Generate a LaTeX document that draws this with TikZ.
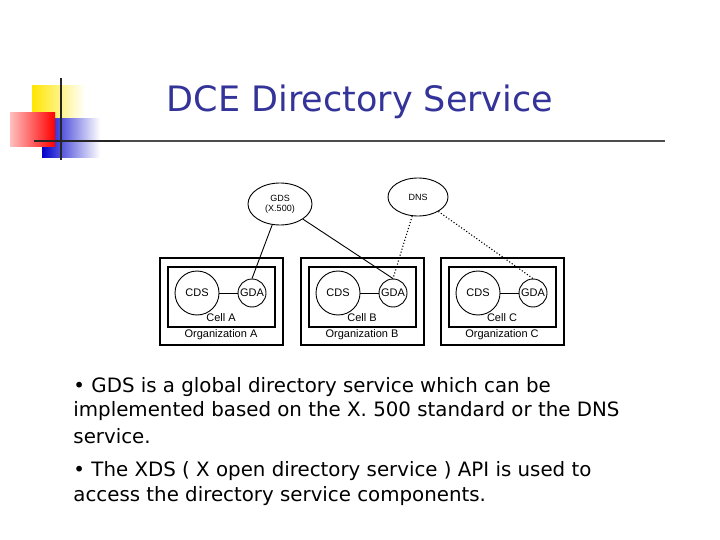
\documentclass[tikz,border=0pt]{standalone}
\usepackage{fontspec}
\usetikzlibrary{shapes.geometric}
\setmainfont{DejaVu Sans}
\newfontfamily\arialf{Liberation Sans}
\definecolor{ttl}{RGB}{51,51,153}
\begin{document}
\begin{tikzpicture}[x=1pt,y=-1pt,line width=0.9pt,
 el/.style={draw,ellipse,minimum width=64pt,minimum height=42pt,inner sep=0pt,font=\arialf\fontsize{9}{10}\selectfont,align=center},
 cds/.style={draw,circle,minimum size=44pt,inner sep=0pt,font=\arialf\fontsize{11}{12}\selectfont},
 gda/.style={draw,circle,minimum size=28pt,inner sep=0pt,font=\arialf\fontsize{11}{12}\selectfont},
 box/.style={draw,line width=1.2pt,inner sep=0pt},
 lbl/.style={font=\arialf\fontsize{11}{12}\selectfont},
 txt/.style={anchor=west,inner sep=0pt,font=\fontsize{19.8}{20}\selectfont}]
\useasboundingbox (0,0) rectangle (720,540);
% logo
\shade[left color=yellow!80!orange,right color=white] (32,86) rectangle (85,118);
\shade[left color=blue!80!black,right color=white] (42,119) rectangle (100,158);
\shade[left color=red!25,right color=red] (10,113) rectangle (55,147);
\draw[line width=2.5pt,black!85] (61,78) -- (61,160);
\draw[line width=2.5pt,black!85] (34,141) -- (120,141);
\draw[line width=1.2pt,black!70] (120,141) -- (665,141);
\node[text=ttl,font=\fontsize{35}{36}\selectfont] (title) at (360,102) {DCE Directory Service};
% diagram
\node[el] (gds) at (280,204) {GDS\\(X.500)};
\node[el,minimum width=60pt,minimum height=38pt] (dns) at (418,197) {DNS};
\foreach \n/\x in {A/0,B/141,C/281}{
 \draw[box] (160+\x,258) rectangle (283+\x,345);
 \draw[box] (168+\x,267) rectangle (275+\x,327);
 \node[cds] (cds\n) at (197+\x,293) {CDS};
 \node[gda] (gda\n) at (252+\x,293) {GDA};
 \draw (cds\n) -- (gda\n);
 \node[lbl] (cell\n) at (221+\x,318) {Cell \n};
 \node[lbl] (org\n) at (221+\x,335) {Organization \n};
}
\draw (gds) -- (gdaA.north);
\draw (gds) -- (gdaB.north);
\draw[dotted,line width=1.1pt] (dns) -- (gdaB.north);
\draw[dotted,line width=1.1pt] (dns) -- (gdaC.north);
% text
\node[txt] (t1) at (73,387) {• GDS is a global directory service which can be};
\node[txt] (t2) at (73,411) {implemented based on the X. 500 standard or the DNS};
\node[txt] (t3) at (73,436) {service.};
\node[txt] (t4) at (73,471) {• The XDS ( X open directory service ) API is used to};
\node[txt] (t5) at (73,496) {access the directory service components.};
\end{tikzpicture}
\end{document}
